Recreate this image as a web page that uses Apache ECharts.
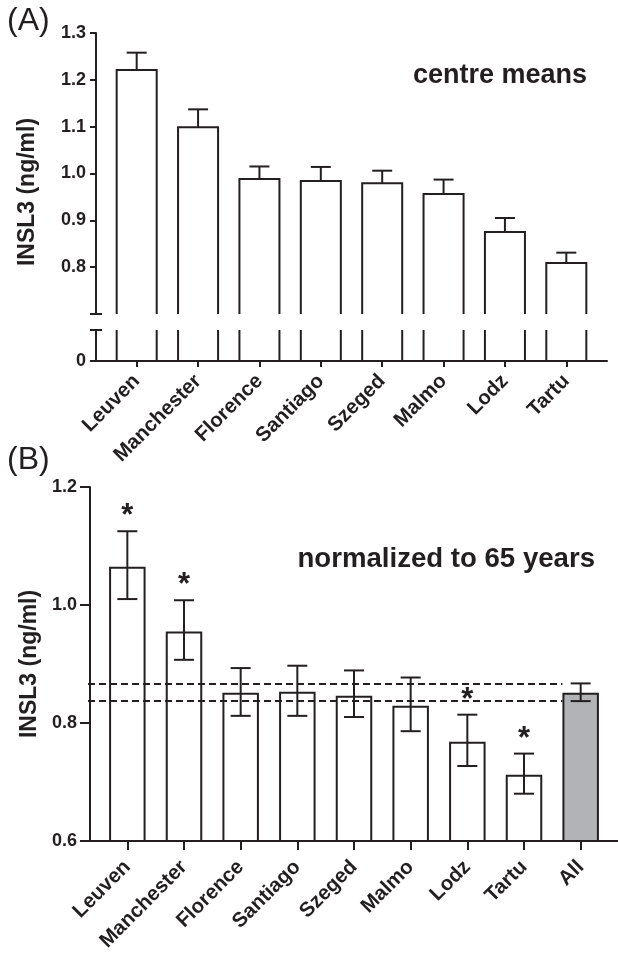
<!DOCTYPE html>
<html>
<head>
<meta charset="utf-8">
<script src="https://cdn.jsdelivr.net/npm/echarts@6/dist/echarts.min.js"></script>
<style>
html, body { margin: 0; padding: 0; background: #fff; }
#chart { width: 618px; height: 954px; }
</style>
</head>
<body>
<div id="chart"></div>
<script>
// (A) centre means, bars with upper SEM
const centres = ['Leuven', 'Manchester', 'Florence', 'Santiago', 'Szeged', 'Malmo', 'Lodz', 'Tartu'];
const meansA = [1.221, 1.099, 0.988, 0.984, 0.979, 0.956, 0.875, 0.809];
const semA = [0.037, 0.038, 0.027, 0.030, 0.027, 0.031, 0.030, 0.022];

// (B) normalized to 65 years
const centresB = ['Leuven', 'Manchester', 'Florence', 'Santiago', 'Szeged', 'Malmo', 'Lodz', 'Tartu', 'All'];
const meansB = [1.065, 0.955, 0.851, 0.853, 0.846, 0.829, 0.768, 0.712, 0.851];
const lowB = [1.010, 0.907, 0.812, 0.812, 0.810, 0.786, 0.727, 0.680, 0.837];
const highB = [1.125, 1.008, 0.893, 0.897, 0.889, 0.877, 0.814, 0.748, 0.867];
const signif = [1, 1, 0, 0, 0, 0, 1, 1, 0];
const refLines = [0.866, 0.837];

const INK = '#231f20';
const FONT = 'Liberation Sans';
const A_MIN = 0.7;   // where the upper part of the broken axis starts
const A_LOW_TOP = 0.1;

const labelStyle = { color: INK, fontFamily: FONT, fontWeight: 'bold', fontSize: 18 };
const line2 = { color: INK, width: 2 };

function catLabel(margin) {
  return { interval: 0, rotate: 45, margin: margin, color: INK, fontFamily: FONT, fontWeight: 'bold', fontSize: 20.5 };
}

// plain axis line only (used to draw the long baseline under the category grid)
function baseline(grid) {
  return {
    type: 'value', gridIndex: grid, min: 0, max: 1,
    axisLine: { show: true, lineStyle: line2 },
    axisTick: { show: false }, axisLabel: { show: false }, splitLine: { show: false }
  };
}

// short cap crossing the y axis at the break
function breakCap(grid, min, max, at) {
  return {
    type: 'value', gridIndex: grid, position: 'left', min: min, max: max, offset: 4,
    axisLine: { show: false },
    axisTick: { show: true, length: 6, lineStyle: line2, customValues: [at] },
    axisLabel: { show: false }, splitLine: { show: false }
  };
}

// open-bottom bar + upper error bar for panel A
function renderBarA(params, api) {
  const i = api.value(0);
  const top = api.coord([i, api.value(1)]);
  const base = api.coord([i, A_MIN]);
  const err = api.coord([i, api.value(2)]);
  const half = api.size([1, 0])[0] * 0.326;
  const x = top[0];
  const st = { stroke: INK, lineWidth: 2, fill: null };
  return {
    type: 'group',
    children: [
      { type: 'polyline', shape: { points: [[x - half, base[1]], [x - half, top[1]], [x + half, top[1]], [x + half, base[1]]] }, style: st },
      { type: 'line', shape: { x1: x, y1: top[1], x2: x, y2: err[1] }, style: st },
      { type: 'line', shape: { x1: x - 10, y1: err[1], x2: x + 10, y2: err[1] }, style: st }
    ]
  };
}

// bar sides below the axis break
function renderStubA(params, api) {
  const i = api.value(0);
  const bot = api.coord([i, 0]);
  const top = api.coord([i, A_LOW_TOP]);
  const half = api.size([1, 0])[0] * 0.326;
  const st = { stroke: INK, lineWidth: 2 };
  return {
    type: 'group',
    children: [
      { type: 'line', shape: { x1: bot[0] - half, y1: bot[1], x2: bot[0] - half, y2: top[1] }, style: st },
      { type: 'line', shape: { x1: bot[0] + half, y1: bot[1], x2: bot[0] + half, y2: top[1] }, style: st }
    ]
  };
}

// error bars (both ways) and asterisks for panel B
function renderErrB(params, api) {
  const i = api.value(0);
  const lo = api.coord([i, api.value(1)]);
  const hi = api.coord([i, api.value(2)]);
  const x = lo[0];
  const st = { stroke: INK, lineWidth: 2 };
  const kids = [
    { type: 'line', shape: { x1: x, y1: lo[1], x2: x, y2: hi[1] }, style: st },
    { type: 'line', shape: { x1: x - 10, y1: lo[1], x2: x + 10, y2: lo[1] }, style: st },
    { type: 'line', shape: { x1: x - 10, y1: hi[1], x2: x + 10, y2: hi[1] }, style: st }
  ];
  if (api.value(3)) {
    kids.push({
      type: 'text', x: x, y: hi[1] + 1,
      style: { text: '*', fill: INK, font: 'bold 31px "Liberation Sans"', textAlign: 'center', textVerticalAlign: 'bottom' }
    });
  }
  return { type: 'group', children: kids };
}

// dashed reference lines, from the y axis to the left edge of the All bar
function renderRef(params, api) {
  const last = centresB.length - 1;
  const p = api.coord([last, api.value(0)]);
  const half = api.size([1, 0])[0] * 0.322;
  return {
    type: 'line',
    shape: { x1: params.coordSys.x - 11, y1: p[1], x2: p[0] - half, y2: p[1] },
    style: { stroke: INK, lineWidth: 2, lineDash: [7, 4] }
  };
}

const chart = echarts.init(document.getElementById('chart'));

chart.setOption({
  animation: false,
  backgroundColor: '#fff',
  title: [
    { text: '(A)', left: 7, top: 5, padding: 0, textStyle: { color: INK, fontFamily: FONT, fontWeight: 'normal', fontSize: 32 } },
    { text: '(B)', left: 7, top: 444, padding: 0, textStyle: { color: INK, fontFamily: FONT, fontWeight: 'normal', fontSize: 32 } },
    { text: 'centre means', right: 31, top: 62, padding: 0, textStyle: { color: INK, fontFamily: FONT, fontWeight: 'bold', fontSize: 27 } },
    { text: 'normalized to 65 years', right: 23, top: 545, padding: 0, textStyle: { color: INK, fontFamily: FONT, fontWeight: 'bold', fontSize: 27.6 } }
  ],
  grid: [
    { left: 106, width: 491, top: 33, height: 281 },
    { left: 106, width: 491, top: 330, height: 31 },
    { left: 96, width: 511, top: 330, height: 31 },
    { left: 99, width: 510, top: 487, height: 354 },
    { left: 90, width: 528, top: 487, height: 354 }
  ],
  xAxis: [
    { type: 'category', gridIndex: 0, data: centres, show: false },
    {
      type: 'category', gridIndex: 1, data: centres,
      axisLine: { show: false },
      axisTick: { show: true, alignWithLabel: true, length: 6, lineStyle: line2 },
      axisLabel: catLabel(17)
    },
    baseline(2),
    {
      type: 'category', gridIndex: 3, data: centresB,
      axisLine: { show: false },
      axisTick: { show: true, alignWithLabel: true, length: 9, lineStyle: line2 },
      axisLabel: catLabel(23)
    },
    baseline(4)
  ],
  yAxis: [
    {
      type: 'value', gridIndex: 0, position: 'left', min: A_MIN, max: 1.3, interval: 0.1, offset: 10,
      name: 'INSL3 (ng/ml)', nameLocation: 'middle', nameGap: 57,
      nameTextStyle: { color: INK, fontFamily: FONT, fontWeight: 'bold', fontSize: 23, padding: [0, 37, 0, 0] },
      axisLine: { show: true, lineStyle: line2 },
      axisTick: { show: true, length: 6, lineStyle: line2 },
      axisLabel: Object.assign({ margin: 10, formatter: v => (v < A_MIN + 0.01 ? '' : v.toFixed(1)) }, labelStyle),
      splitLine: { show: false }
    },
    breakCap(0, A_MIN, 1.3, A_MIN),
    {
      type: 'value', gridIndex: 1, position: 'left', min: 0, max: A_LOW_TOP, interval: A_LOW_TOP, offset: 10,
      axisLine: { show: true, lineStyle: line2 },
      axisTick: { show: true, length: 6, lineStyle: line2 },
      axisLabel: Object.assign({ margin: 10, formatter: v => (v === 0 ? '0' : '') }, labelStyle),
      splitLine: { show: false }
    },
    breakCap(1, 0, A_LOW_TOP, A_LOW_TOP),
    { type: 'value', gridIndex: 2, show: false },
    {
      type: 'value', gridIndex: 3, position: 'left', min: 0.6, max: 1.2, interval: 0.2, offset: 9,
      name: 'INSL3 (ng/ml)', nameLocation: 'middle', nameGap: 47,
      nameTextStyle: { color: INK, fontFamily: FONT, fontWeight: 'bold', fontSize: 23 },
      axisLine: { show: true, lineStyle: line2 },
      axisTick: { show: true, length: 10, lineStyle: line2 },
      axisLabel: Object.assign({ margin: 13, formatter: v => v.toFixed(1) }, labelStyle),
      splitLine: { show: false }
    },
    { type: 'value', gridIndex: 4, show: false }
  ],
  series: [
    {
      type: 'custom', xAxisIndex: 0, yAxisIndex: 0, renderItem: renderBarA,
      data: meansA.map((v, i) => [i, v, v + semA[i]])
    },
    {
      type: 'custom', xAxisIndex: 1, yAxisIndex: 2, renderItem: renderStubA,
      data: meansA.map((v, i) => [i, v])
    },
    {
      type: 'bar', xAxisIndex: 3, yAxisIndex: 5, barWidth: '64.4%', z: 2,
      itemStyle: { color: '#fff', borderColor: INK, borderWidth: 2 },
      data: meansB.map((v, i) => (centresB[i] === 'All' ? { value: v, itemStyle: { color: '#b2b3b6' } } : v))
    },
    {
      type: 'custom', xAxisIndex: 3, yAxisIndex: 5, renderItem: renderRef, z: 3,
      data: refLines.map(v => [v])
    },
    {
      type: 'custom', xAxisIndex: 3, yAxisIndex: 5, renderItem: renderErrB, z: 4,
      data: meansB.map((v, i) => [i, lowB[i], highB[i], signif[i]])
    }
  ]
});
</script>
</body>
</html>
